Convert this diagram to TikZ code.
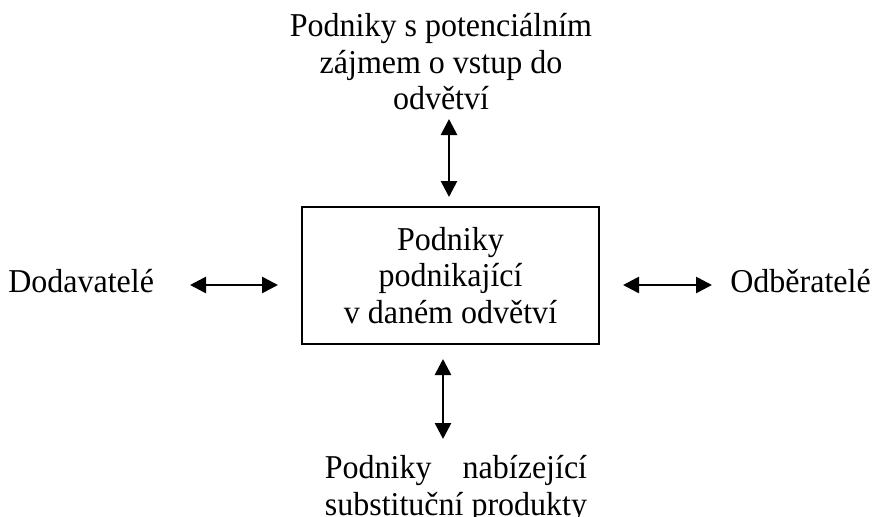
\documentclass[tikz,border=0pt]{standalone}
\usepackage{fontspec}
\setmainfont[FakeStretch=0.96]{Liberation Serif}
\usepackage{calc}
\usetikzlibrary{arrows.meta}
\begin{document}
\begin{tikzpicture}[x=0.75pt,y=-0.75pt,
  lbl/.style={inner sep=0pt, align=center, font=\fontsize{25}{27.5}\selectfont},
  dblarrow/.style={line width=2pt, {Triangle[length=12pt,width=12pt]}-{Triangle[length=12pt,width=12pt]}}]
\useasboundingbox (0,0) rectangle (874,517);
\node[draw, line width=1.5pt, minimum width=222.75pt, minimum height=102.75pt, inner sep=0pt] (box) at (450.5,275.5) {};
\node[lbl] (boxtext) at (box.center) {Podniky\\podnikající\\v daném odvětví};
\node[lbl, anchor=north] (top) at (441,13) {Podniky s potenciálním\\zájmem o vstup do\\odvětví};
\node[lbl, anchor=north] (bottom) at (456,455) {\makebox[\widthof{substituční produkty}][s]{Podniky\hfill nabízející}\\substituční produkty};
\node[lbl, anchor=base west] (left) at (8,292) {Dodavatelé};
\node[lbl, anchor=base east] (right) at (871,292) {Odběratelé};
\coordinate (t1) at (449,119); \coordinate (t2) at (449,197);
\coordinate (b1) at (443,359); \coordinate (b2) at (443,439);
\coordinate (l1) at (190,285); \coordinate (l2) at (278,285);
\coordinate (r1) at (623,285); \coordinate (r2) at (712,285);
\draw[dblarrow] (t1) -- (t2);
\draw[dblarrow] (b1) -- (b2);
\draw[dblarrow] (l1) -- (l2);
\draw[dblarrow] (r1) -- (r2);
\end{tikzpicture}
\end{document}
